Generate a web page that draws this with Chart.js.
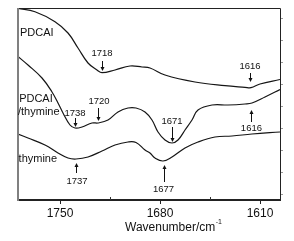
<!DOCTYPE html>
<html>
<head>
<meta charset="utf-8">
<script src="https://cdn.jsdelivr.net/npm/chart.js@4"></script>
<style>
  html, body { margin: 0; padding: 0; background: #fff; }
  #wrap { width: 294px; height: 241px; position: relative; }
</style>
</head>
<body>
<div id="wrap"><canvas id="ir"></canvas></div>
<script>
(() => {
  'use strict'

  // spectres (nombre d'onde, transmittance arbitraire)
  const pdcaiWn = [1779.4, 1767.5, 1753.5, 1744.4, 1737.4, 1730.4, 1724.1, 1720.6, 1711.5, 1701, 1692.6, 1687, 1676.5, 1655.5, 1634.5, 1620.5, 1616.3, 1610, 1596];
  const pdcaiT  = [191.5, 188.3, 178.3, 167, 152, 137, 130, 127.3, 130, 134, 133, 132, 125, 118, 114.3, 112.7, 112.3, 116, 120.5];

  const mixWn = [1779.4, 1772.4, 1762.6, 1755.6, 1751.4, 1747.9, 1743, 1739.5, 1734.6, 1727.6, 1723.4, 1716.4, 1709.4, 1702.4, 1696.8, 1690.5, 1685.6, 1681.4, 1676.5, 1671.6, 1667.4, 1662.5, 1657.6, 1653.4, 1643.6, 1632.4, 1620.5, 1615.6, 1606.5, 1596];
  const mixT  = [143.5, 135, 122, 108, 97, 87, 75, 72, 73, 77, 77, 80, 88, 92, 92, 88, 80, 68, 60, 57, 60, 70, 80, 90, 95, 95, 96, 97, 103, 110.5];

  const thyWn = [1779.4, 1772.4, 1760.5, 1751.4, 1744.4, 1738.8, 1730.4, 1720.6, 1711.5, 1702.4, 1696.8, 1690.5, 1687, 1683.5, 1677.9, 1671.6, 1662.5, 1653.4, 1641.5, 1629.6, 1615.6, 1596];
  const thyT  = [66, 62, 55, 47, 42, 41, 43, 49, 55, 58, 57.5, 50, 47, 42, 39, 43, 52, 58, 63, 64, 66, 68];

  const xTicks = [1750, 1680, 1610];
  const xMinor = [1715, 1645];
  const yRightTicks = [182, 160, 138, 116, 94, 72, 50, 28, 6];

  // noms des spectres et position du texte
  const seriesNames = ['PDCAI', 'PDCAI', '/thymine', 'thymine'];
  const nameWn = [1778, 1778.6, 1779.4, 1779];
  const nameT = [167, 101, 88, 41];

  // pics annotés : texte, position de la flèche, sens
  const peakText = ['1718', '1616', '1720', '1738', '1671', '1616', '1737', '1677'];
  const peakWn   = [1720.6, 1617, 1723.4, 1739.2, 1671.6, 1616.3, 1738.8, 1677.5];
  const labelWn  = [1720.6, 1617, 1722.7, 1739.5, 1671.6, 1616, 1738.1, 1677.5];
  const labelT   = [147, 133.5, 98.5, 86.5, 78.5, 71.5, 18.5, 11];
  const arrowFrom = [139, 127, 92, 82, 73, 78, 27, 18];
  const arrowTo   = [129, 118, 79, 73, 58, 90, 37, 35];

  const toPts = (wn, t) => wn.map((w, i) => ({ x: w, y: t[i] }));

  const lineSet = (label, wn, t) => ({
    label: label,
    data: toPts(wn, t),
    borderColor: '#151515',
    borderWidth: 1.2,
    pointRadius: 0,
    fill: false,
    tension: 0.4
  });

  // cadre, graduations secondaires, textes et flèches
  const decor = {
    id: 'decor',
    afterDatasetsDraw(chart) {
      const { ctx, chartArea: a, scales: { x, y } } = chart;
      ctx.save();
      // cadre
      ctx.strokeStyle = '#222';
      ctx.lineWidth = 1;
      ctx.beginPath();
      ctx.moveTo(a.left, a.top + 0.5); ctx.lineTo(a.right + 0.5, a.top + 0.5);
      ctx.lineTo(a.right + 0.5, a.bottom);
      ctx.stroke();
      ctx.strokeStyle = '#808080';
      ctx.lineWidth = 2;
      ctx.beginPath();
      ctx.moveTo(a.left, a.top); ctx.lineTo(a.left, a.bottom + 1);
      ctx.stroke();
      // graduations mineures vers l'intérieur
      ctx.strokeStyle = '#333';
      ctx.lineWidth = 1;
      xMinor.forEach(v => {
        const px = Math.round(x.getPixelForValue(v)) + 0.5;
        ctx.beginPath(); ctx.moveTo(px, a.bottom); ctx.lineTo(px, a.bottom - 3); ctx.stroke();
      });
      // petites graduations à droite
      ctx.strokeStyle = '#999';
      yRightTicks.forEach(v => {
        const py = Math.round(y.getPixelForValue(v)) + 0.5;
        ctx.beginPath(); ctx.moveTo(a.right + 1, py); ctx.lineTo(a.right + 3, py); ctx.stroke();
      });
      // noms des spectres
      ctx.fillStyle = '#111';
      ctx.font = '11px "Liberation Sans", Arial, sans-serif';
      ctx.textAlign = 'left';
      ctx.textBaseline = 'middle';
      seriesNames.forEach((s, i) => {
        ctx.fillText(s, x.getPixelForValue(nameWn[i]), y.getPixelForValue(nameT[i]));
      });
      // pics
      ctx.font = '9.5px "Liberation Sans", Arial, sans-serif';
      ctx.textAlign = 'center';
      peakText.forEach((s, i) => {
        ctx.fillStyle = '#111';
        ctx.fillText(s, x.getPixelForValue(labelWn[i]), y.getPixelForValue(labelT[i]));
        const px = Math.round(x.getPixelForValue(peakWn[i])) + 0.5;
        const y0 = y.getPixelForValue(arrowFrom[i]);
        const y1 = y.getPixelForValue(arrowTo[i]);
        const dir = y1 > y0 ? 1 : -1;
        ctx.strokeStyle = '#111';
        ctx.lineWidth = 1;
        ctx.beginPath(); ctx.moveTo(px, y0); ctx.lineTo(px, y1 - dir * 3); ctx.stroke();
        ctx.beginPath();
        ctx.moveTo(px, y1);
        ctx.lineTo(px - 2, y1 - dir * 4);
        ctx.lineTo(px + 2, y1 - dir * 4);
        ctx.closePath();
        ctx.fill();
      });
      // titre de l'axe
      ctx.font = '12px "Liberation Sans", Arial, sans-serif';
      ctx.textAlign = 'left';
      const main = 'Wavenumber/cm';
      const tx = 125;
      ctx.fillText(main, tx, 228);
      const w = ctx.measureText(main).width;
      ctx.font = '7px "Liberation Sans", Arial, sans-serif';
      ctx.fillText('-1', w + tx + 0.5, 222);
      ctx.restore();
    }
  };

  new Chart(document.getElementById('ir'), {
    type: 'line',
    data: {
      datasets: [
        lineSet('PDCAI', pdcaiWn, pdcaiT),
        lineSet('PDCAI/thymine', mixWn, mixT),
        lineSet('thymine', thyWn, thyT)
      ]
    },
    options: {
      responsive: true,
      maintainAspectRatio: false,
      animation: false,
      layout: { padding: { left: 18, top: 8, right: 14, bottom: 0 } },
      plugins: { legend: { display: false }, tooltip: { enabled: false } },
      scales: {
        x: {
          type: 'linear',
          reverse: true,
          min: 1596,
          max: 1779.4,
          afterFit: s => { s.height = 41; },
          afterBuildTicks: s => { s.ticks = xTicks.map(v => ({ value: v })); },
          grid: { drawOnChartArea: false, drawTicks: true, tickLength: 4, color: '#222' },
          border: { display: true, width: 2, color: '#222' },
          ticks: {
            padding: 2,
            color: '#111',
            font: { family: '"Liberation Sans", Arial, sans-serif', size: 12 },
            callback: v => String(v)
          }
        },
        y: {
          display: false,
          min: 0,
          max: 192
        }
      }
    },
    plugins: [decor]
  });
})();
</script>
</body>
</html>
